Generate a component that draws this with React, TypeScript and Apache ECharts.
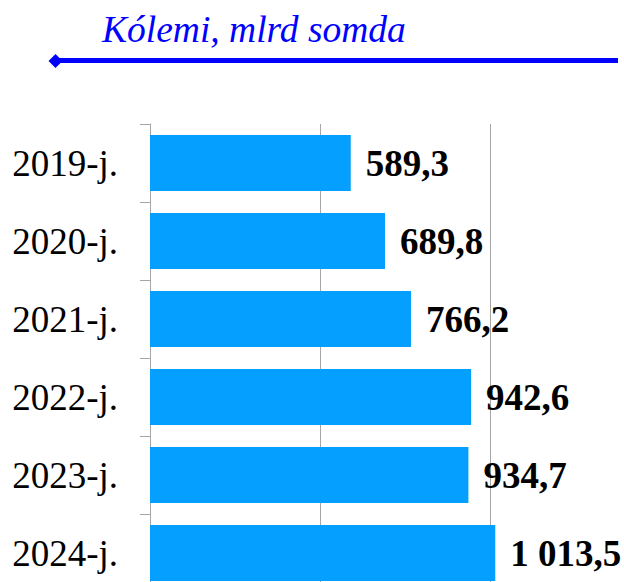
import React, { useEffect, useRef } from "react";
import * as echarts from "echarts";

const categories = ["2019-j.", "2020-j.", "2021-j.", "2022-j.", "2023-j.", "2024-j."];
const values = [589.3, 689.8, 766.2, 942.6, 934.7, 1013.5];
const titleText = "Kólemi, mlrd somda";

function fmt(v: number): string {
  const [i, d] = v.toFixed(1).split(".");
  const int = i.replace(/\B(?=(\d{3})+(?!\d))/g, " ");
  return int + "," + d;
}

export default function App() {
  const ref = useRef<HTMLDivElement>(null);
  useEffect(() => {
    if (!ref.current) return;
    const chart = echarts.init(ref.current, null, { renderer: "svg" });
    chart.setOption({
      animation: false,
      backgroundColor: "#ffffff",
      grid: {
        left: 150,
        top: 124,
        width: 511,
        height: 468,
        containLabel: false,
        outerBoundsMode: "none",
      },
      xAxis: {
        type: "value",
        min: 0,
        max: 1500,
        interval: 500,
        axisLabel: { show: false },
        axisLine: { show: false },
        axisTick: { show: false },
        splitLine: { show: true, lineStyle: { color: "#a6a6a6", width: 1 } },
      },
      yAxis: {
        type: "category",
        data: categories,
        inverse: true,
        axisLine: { show: true, lineStyle: { color: "#a6a6a6", width: 1 } },
        axisTick: { show: true, length: 10, lineStyle: { color: "#a6a6a6" } },
        axisLabel: {
          margin: 32,
          color: "#000",
          fontFamily: "Liberation Serif",
          fontSize: 37,
        },
      },
      series: [
        {
          type: "bar",
          data: values,
          barCategoryGap: "28%",
          itemStyle: { color: "#05a0ff" },
          label: {
            show: true,
            position: "right",
            distance: 15,
            formatter: (p: any) => fmt(p.value),
            color: "#000",
            fontFamily: "Liberation Serif",
            fontWeight: "bold",
            fontSize: 37,
          },
        },
      ],
      graphic: [
        {
          type: "text",
          left: 102,
          top: 10,
          style: {
            text: titleText,
            fill: "#0000ff",
            font: "italic 37.5px 'Liberation Serif'",
          },
        },
        {
          type: "line",
          shape: { x1: 56, y1: 60.5, x2: 618, y2: 60.5 },
          style: { stroke: "#0000ff", lineWidth: 5 },
        },
        {
          type: "polygon",
          shape: { points: [[48.5, 61], [55.5, 54], [62.5, 61], [55.5, 68]] },
          style: { fill: "#0000ff" },
        },
      ],
    });
    return () => chart.dispose();
  }, []);
  return (
    <div
      ref={ref}
      style={{ position: "absolute", left: 0, top: 0, width: 624, height: 582 }}
    />
  );
}
